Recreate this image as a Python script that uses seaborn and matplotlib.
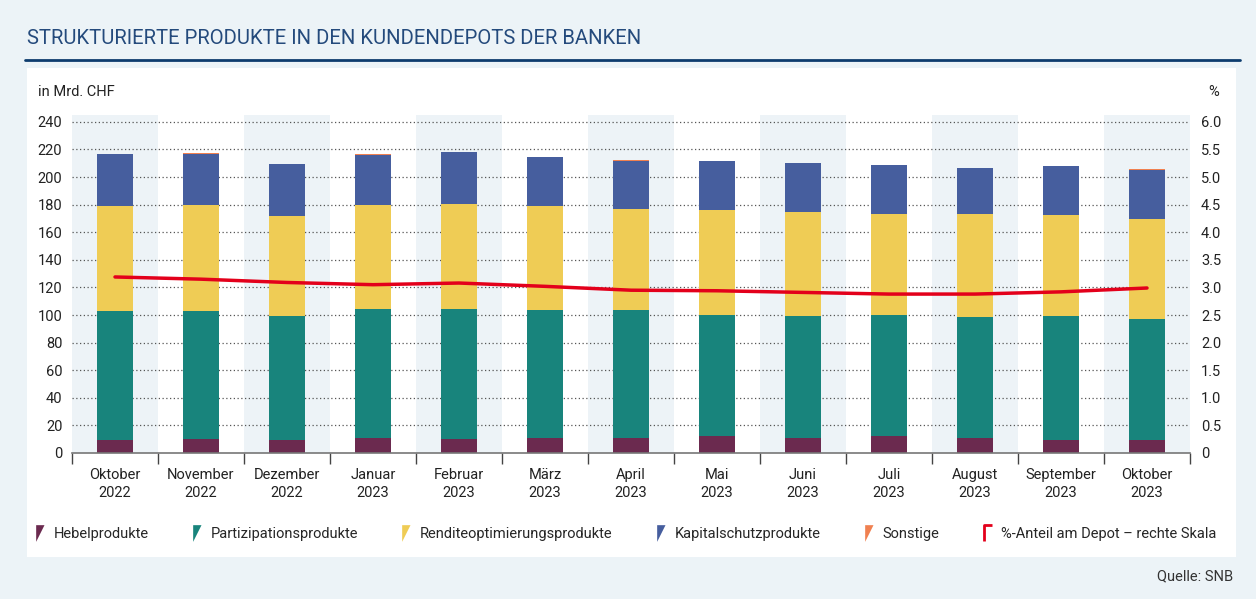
import numpy as np
import pandas as pd
import seaborn as sns
import matplotlib.pyplot as plt
from matplotlib.lines import Line2D
from matplotlib.patches import Rectangle
from matplotlib.path import Path

# data (Mrd. CHF, % share on right axis)
monate = ['Oktober\n2022', 'November\n2022', 'Dezember\n2022', 'Januar\n2023',
          'Februar\n2023', 'März\n2023', 'April\n2023', 'Mai\n2023', 'Juni\n2023',
          'Juli\n2023', 'August\n2023', 'September\n2023', 'Oktober\n2023']
hebel = [9.4, 10.2, 9.4, 11.1, 10.2, 10.9, 10.9, 12.3, 10.9, 12.3, 10.9, 9.4, 9.4]
partizipation = [93.6, 92.8, 89.9, 93.3, 94.2, 92.8, 92.8, 87.8, 88.4, 87.8, 87.7, 89.9, 87.8]
rendite = [76.1, 76.8, 72.6, 75.4, 76.2, 75.4, 73.2, 76.1, 75.5, 73.3, 74.8, 73.3, 72.5]
kapitalschutz = [37.7, 37.2, 37.7, 36.3, 37.6, 35.5, 34.8, 35.5, 35.5, 35.4, 33.3, 35.5, 35.5]
sonstige = [0.1, 0.5, 0.1, 0.7, 0.1, 0.1, 0.8, 0.1, 0.1, 0.1, 0.1, 0.1, 0.6]
anteil = [3.19, 3.15, 3.09, 3.05, 3.08, 3.02, 2.95, 2.94, 2.91, 2.88, 2.88, 2.92, 2.99]

serien = ['Hebelprodukte', 'Partizipationsprodukte', 'Renditeoptimierungsprodukte',
          'Kapitalschutzprodukte', 'Sonstige']
farben = ['#6B2A4F', '#18847C', '#EFCC55', '#465E9E', '#F08050']
rot = '#E3001B'

df = pd.DataFrame({'monat': monate, 'Hebelprodukte': hebel,
                   'Partizipationsprodukte': partizipation,
                   'Renditeoptimierungsprodukte': rendite,
                   'Kapitalschutzprodukte': kapitalschutz, 'Sonstige': sonstige})
cum = df[serien].cumsum(axis=1)

sns.set_theme(style='white')
plt.rcParams['font.family'] = ['Roboto', 'DejaVu Sans']
fs = 10.5

W, H = 1256, 599
fig = plt.figure(figsize=(W / 100, H / 100), dpi=100, facecolor='#ECF3F7')
fig.add_artist(Rectangle((27 / W, 1 - 557 / H), (1236 - 27) / W, (557 - 68) / H,
                         transform=fig.transFigure, facecolor='white', edgecolor='none', zorder=0))
fig.text(27 / W, 1 - 38 / H, 'STRUKTURIERTE PRODUKTE IN DEN KUNDENDEPOTS DER BANKEN',
         fontsize=14.6, color='#244A7C', va='center')
fig.add_artist(Line2D([25 / W, 1240 / W], [1 - 60 / H] * 2, color='#0D3C6E', lw=2))

ax = fig.add_axes([72 / W, 1 - 453 / H, (1190 - 72) / W, (453 - 115) / H])
ax.set_facecolor('white')

for i in range(0, 13, 2):
    ax.axvspan(i - 0.5, i + 0.5, color='#EDF3F7', lw=0, zorder=0)
for v in range(20, 241, 20):
    ax.axhline(v, color='#555555', lw=0.9, ls=(0, (1, 2)), zorder=1)

# stacked bars: draw cumulative totals from the top down
for s, c in reversed(list(zip(serien, farben))):
    sns.barplot(x=df['monat'], y=cum[s], color=c, width=0.43, saturation=1,
                errorbar=None, linewidth=0, zorder=2, ax=ax)

ax2 = ax.twinx()
sns.lineplot(x=np.arange(len(monate)), y=anteil, color=rot, lw=2.5, ax=ax2)

ax.set_ylim(0, 245)
ax2.set_ylim(0, 6.125)
ax.set_xlim(-0.5, 12.5)
ax.set_yticks(range(0, 241, 20))
ax2.set_yticks(np.arange(0, 6.01, 0.5))
ax2.set_yticklabels(['0'] + [f'{v:.1f}' for v in np.arange(0.5, 6.01, 0.5)])
ax.set_xticks(range(13))
ax.set_xticklabels(monate, linespacing=1.35)
ax.set_xticks(np.arange(-0.5, 13, 1), minor=True)
ax.tick_params(axis='y', length=0, pad=7, labelsize=fs, colors='#222222')
ax2.tick_params(axis='y', length=0, pad=8, labelsize=fs, colors='#222222')
ax.tick_params(axis='x', which='major', length=0, pad=11, labelsize=fs, colors='#222222')
ax.tick_params(axis='x', which='minor', length=8, width=1, color='#444444', bottom=True)
for a in (ax, ax2):
    a.set_xlabel('')
    a.set_ylabel('')
    for sp in a.spines.values():
        sp.set_visible(False)
ax.spines['bottom'].set_visible(True)
ax.spines['bottom'].set_color('#777777')
ax.spines['bottom'].set_linewidth(1.2)

fig.text(38 / W, 1 - 92 / H, 'in Mrd. CHF', fontsize=fs, va='center', color='#222222')
fig.text(1219 / W, 1 - 92 / H, '%', fontsize=fs, va='center', ha='right', color='#222222')

flag = Path([(-0.4, 1), (0.6, 1), (-0.4, -1), (-0.4, 1)],
            [Path.MOVETO, Path.LINETO, Path.LINETO, Path.CLOSEPOLY])
ecke = Path([(-0.4, -1), (-0.4, 1), (0.6, 1)], [Path.MOVETO, Path.LINETO, Path.LINETO])
handles = [Line2D([], [], ls='none', marker=flag, ms=12, color=c, mew=0) for c in farben]
handles.append(Line2D([], [], ls='none', marker=ecke, ms=12, markerfacecolor='none',
                      markeredgecolor=rot, mew=2))
labels = serien + ['%-Anteil am Depot – rechte Skala']
fig.legend(handles, labels, ncol=6, loc='center left', bbox_to_anchor=(33 / W, 1 - 534 / H),
           frameon=False, fontsize=fs, handlelength=0.8, handletextpad=0.6,
           columnspacing=2.85, borderaxespad=0, borderpad=0)

fig.text(1233 / W, 1 - 576 / H, 'Quelle: SNB', fontsize=fs, ha='right', va='center', color='#333333')

fig.savefig('out.png', dpi=100, facecolor=fig.get_facecolor())
